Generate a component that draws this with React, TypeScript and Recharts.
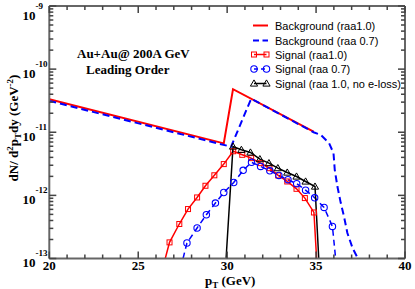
import React from 'react';
import { LineChart, Line, XAxis, YAxis } from 'recharts';

// ---------- data ----------
const bgRaa10X = [20, 29.81, 30.33, 34.86];
const bgRaa10Y = [3.34e-11, 6.67e-12, 4.81e-11, 1.02e-11];

const bgRaa07X = [20, 30.22, 31.35, 34.86, 35.26, 35.73, 35.98, 36.05, 36.2, 36.39, 36.57, 36.76, 37.05, 37.29, 37.45];
const bgRaa07Y = [3.14e-11, 5.9e-12, 3.4e-11, 1.0e-11, 9.1e-12, 6.73e-12, 4.67e-12, 2.54e-12, 1.38e-12, 7.55e-13, 4.63e-13, 2.53e-13, 1.47e-13, 1.08e-13, 0.9e-13];

const sigRaa10X = [26.52, 26.76, 27.31, 27.8, 28.31, 28.78, 29.28, 29.81, 30.34, 30.85, 31.35, 31.88, 32.38, 32.87, 33.38, 33.9, 34.37, 34.88, 35.03];
const sigRaa10Y = [1e-13, 1.8e-13, 3.52e-13, 6.07e-13, 9.27e-13, 1.42e-12, 2.08e-12, 3.13e-12, 5.0e-12, 4.39e-12, 3.89e-12, 3.24e-12, 2.7e-12, 2.07e-12, 1.66e-12, 1.27e-12, 9.06e-13, 5.36e-13, 1e-13];

const sigRaa07X = [27.52, 27.74, 28.31, 28.83, 29.34, 29.81, 30.37, 30.9, 31.37, 31.88, 32.4, 32.91, 33.42, 33.91, 34.41, 34.92, 35.45, 35.92, 36.1];
const sigRaa07Y = [1e-13, 1.76e-13, 3.04e-13, 4.93e-13, 7.55e-13, 1.11e-12, 1.6e-12, 2.49e-12, 3.34e-12, 2.88e-12, 2.45e-12, 2.07e-12, 1.77e-12, 1.53e-12, 1.21e-12, 9.16e-13, 6.44e-13, 3.22e-13, 1e-13];

const sigNoLossX = [29.94, 30.33, 30.8, 31.31, 31.84, 32.35, 32.85, 33.38, 33.9, 34.41, 34.94, 35.15];
const sigNoLossY = [1e-13, 5.94e-12, 5.27e-12, 4.78e-12, 3.75e-12, 3.24e-12, 2.7e-12, 2.3e-12, 1.99e-12, 1.66e-12, 1.38e-12, 1e-13];

const majorXTicks = [20, 25, 30, 35, 40];
const allXTicks = [20, 21, 22, 23, 24, 25, 26, 27, 28, 29, 30, 31, 32, 33, 34, 35, 36, 37, 38, 39, 40];
const majorYTicks = [1e-13, 1e-12, 1e-11, 1e-10, 1e-9];
const majorYExps = ['-13', '-12', '-11', '-10', '-9'];
const allYTicks = [
  1e-13, 2e-13, 3e-13, 4e-13, 5e-13, 6e-13, 7e-13, 8e-13, 9e-13,
  1e-12, 2e-12, 3e-12, 4e-12, 5e-12, 6e-12, 7e-12, 8e-12, 9e-12,
  1e-11, 2e-11, 3e-11, 4e-11, 5e-11, 6e-11, 7e-11, 8e-11, 9e-11,
  1e-10, 2e-10, 3e-10, 4e-10, 5e-10, 6e-10, 7e-10, 8e-10, 9e-10,
  1e-9,
];

const legendLabels = [
  'Background (raa1.0)',
  'Background (raa 0.7)',
  'Signal (raa1.0)',
  'Signal (raa 0.7)',
  'Signal (raa 1.0, no e-loss)',
];

// ---------- helpers ----------
const toPts = (xs: number[], ys: number[]) => xs.map((x, i) => ({ x, y: ys[i] }));

const bgRaa10 = toPts(bgRaa10X, bgRaa10Y);
const bgRaa07 = toPts(bgRaa07X, bgRaa07Y);
const sigRaa10 = toPts(sigRaa10X, sigRaa10Y);
const sigRaa07 = toPts(sigRaa07X, sigRaa07Y);
const sigNoLoss = toPts(sigNoLossX, sigNoLossY);

const SERIF = "'Liberation Serif', 'Times New Roman', serif";
const SANS = "'Liberation Sans Narrow', 'Arial Narrow', 'Liberation Sans', Arial, sans-serif";
const AXIS = '#666666';
const TICK = '#444444';
const RED = '#ff0000';
const BLUE = '#0000ff';

const DOMX: [number, number] = [20, 40];
const DOMY: [number, number] = [1e-13, 1e-9];
const MAJ = 7;
const MIN = 4;

const isMajorX = (v: number) => majorXTicks.indexOf(v) >= 0;
const majorYIndex = (v: number) =>
  majorYTicks.findIndex((m) => Math.abs(Math.log10(m) - Math.log10(v)) < 1e-6);

const square = (cx: number, cy: number, key?: any) => (
  <rect key={key} x={cx - 2.5} y={cy - 2.5} width={5} height={5} fill="none" stroke={RED} strokeWidth={1} />
);
const circle = (cx: number, cy: number, key?: any) => (
  <circle key={key} cx={cx} cy={cy} r={3.2} fill="none" stroke={BLUE} strokeWidth={1.1} />
);
const triangle = (cx: number, cy: number, key?: any) => (
  <path key={key} d={`M${cx},${cy - 3.6}L${cx - 3.6},${cy + 2.6}L${cx + 3.6},${cy + 2.6}Z`} fill="none" stroke="#000" strokeWidth={1} />
);

const makeDot = (shape: (cx: number, cy: number, key?: any) => any, len: number) => (props: any) => {
  const { cx, cy, index } = props;
  if (index === 0 || index === len - 1 || cx == null || cy == null) return <g key={`d${index}`} />;
  return shape(cx, cy, `d${index}`);
};

// Each axis draws its own inward tick marks (major + minor) and, for bottom/left, labels.
const BottomTick = (props: any) => {
  const { x, y, payload } = props;
  const major = isMajorX(payload.value);
  return (
    <g>
      <rect x={x - 0.75} y={y - (major ? MAJ : MIN)} width={1.5} height={major ? MAJ : MIN} fill={TICK} stroke="none" />
      {major ? (
        <text x={x} y={y + 11.5} textAnchor="middle" fontFamily={SERIF} fontWeight="bold" fontSize={13} fill="#000">
          {payload.value}
        </text>
      ) : null}
    </g>
  );
};
const TopTick = (props: any) => {
  const { x, y, payload } = props;
  const major = isMajorX(payload.value);
  return <rect x={x - 0.75} y={y} width={1.5} height={major ? MAJ : MIN} fill={TICK} stroke="none" />;
};
const LeftTick = (props: any) => {
  const { x, y, payload } = props;
  const i = majorYIndex(payload.value);
  const major = i >= 0;
  const exp = major ? majorYExps[i] : '';
  const shift = exp === '-9' ? 5 : 0;
  return (
    <g>
      <rect x={x} y={y - 0.75} width={major ? MAJ : MIN} height={1.5} fill={TICK} stroke="none" />
      {major ? (
        <text x={22.5} y={y + 8.5 + shift} textAnchor="start" fontFamily={SERIF} fontWeight="bold" fontSize={13} fill="#000">
          10
          <tspan fontSize={9} dy={-11}>{exp}</tspan>
        </text>
      ) : null}
    </g>
  );
};
const RightTick = (props: any) => {
  const { x, y, payload } = props;
  const major = majorYIndex(payload.value) >= 0;
  return <rect x={x - (major ? MAJ : MIN)} y={y - 0.75} width={major ? MAJ : MIN} height={1.5} fill={TICK} stroke="none" />;
};

const legendY = [25.5, 40.5, 54.5, 69, 83.5];
const axisLine = { stroke: AXIS, strokeWidth: 2 };

export default function App() {
  return (
    <div style={{ position: 'absolute', left: 0, top: 0, width: 415, height: 289, background: '#fff' }}>
      <LineChart width={415} height={289} margin={{ top: 0, right: 0, bottom: 0, left: 0 }}>
        <XAxis xAxisId="main" dataKey="x" type="number" domain={DOMX} allowDataOverflow ticks={allXTicks}
          height={30.5} tickSize={0} tickMargin={0} tickLine={false} tick={<BottomTick />} interval={0}
          axisLine={axisLine} />
        <XAxis xAxisId="top" orientation="top" dataKey="x" type="number" domain={DOMX} allowDataOverflow ticks={allXTicks}
          height={6} tickSize={0} tickMargin={0} tickLine={false} tick={<TopTick />} interval={0}
          axisLine={axisLine} />
        <YAxis yAxisId="main" type="number" scale="log" domain={DOMY} allowDataOverflow ticks={allYTicks}
          width={49.3} tickSize={0} tickMargin={0} tickLine={false} tick={<LeftTick />} interval={0}
          axisLine={axisLine} />
        <YAxis yAxisId="right" orientation="right" type="number" scale="log" domain={DOMY} allowDataOverflow ticks={allYTicks}
          width={10} tickSize={0} tickMargin={0} tickLine={false} tick={<RightTick />} interval={0}
          axisLine={axisLine} />

        <Line xAxisId="main" yAxisId="main" data={bgRaa10} dataKey="y" type="linear" stroke={RED} strokeWidth={2}
          dot={false} activeDot={false} isAnimationActive={false} />
        <Line xAxisId="main" yAxisId="main" data={bgRaa07} dataKey="y" type="linear" stroke={BLUE} strokeWidth={2}
          strokeDasharray="7 4" dot={false} activeDot={false} isAnimationActive={false} />
        <Line xAxisId="main" yAxisId="main" data={sigRaa10} dataKey="y" type="linear" stroke={RED} strokeWidth={1.5}
          dot={makeDot(square, sigRaa10.length)} activeDot={false} isAnimationActive={false} />
        <Line xAxisId="main" yAxisId="main" data={sigRaa07} dataKey="y" type="linear" stroke={BLUE} strokeWidth={1.5}
          strokeDasharray="6 4" dot={makeDot(circle, sigRaa07.length)} activeDot={false} isAnimationActive={false} />
        <Line xAxisId="main" yAxisId="main" data={sigNoLoss} dataKey="y" type="linear" stroke="#000" strokeWidth={1.5}
          dot={makeDot(triangle, sigNoLoss.length)} activeDot={false} isAnimationActive={false} />

        <text x={77} y={57.5} fontFamily={SERIF} fontWeight="bold" fontSize={13} fill="#000">Au+Au@ 200A GeV</text>
        <text x={86} y={74} fontFamily={SERIF} fontWeight="bold" fontSize={13} fill="#000">Leading Order</text>

        <text x={205} y={285} fontFamily={SERIF} fontWeight="bold" fontSize={13} fill="#000">
          p<tspan fontSize={9} dy={3}>T</tspan><tspan dy={-3}> (GeV)</tspan>
        </text>

        <text transform="rotate(-90)" x={-128} y={18} textAnchor="middle" fontFamily={SERIF} fontWeight="bold" fontSize={13} fill="#000">
          dN/ d<tspan fontSize={9} dy={-5}>2</tspan><tspan dy={5}>p</tspan><tspan fontSize={9} dy={3}>T</tspan><tspan dy={-3}>dy (GeV</tspan><tspan fontSize={9} dy={-5}>-2</tspan><tspan dy={5}>)</tspan>
        </text>

        <g>
          <line x1={253} x2={268} y1={legendY[0]} y2={legendY[0]} stroke={RED} strokeWidth={2} />
          <line x1={253} x2={268} y1={legendY[1]} y2={legendY[1]} stroke={BLUE} strokeWidth={2} strokeDasharray="6 3.5" />
          <line x1={254} x2={266.5} y1={legendY[2]} y2={legendY[2]} stroke={RED} strokeWidth={1.5} />
          {square(254, legendY[2], 'ls1')}
          {square(266.5, legendY[2], 'ls2')}
          <line x1={254} x2={266.5} y1={legendY[3]} y2={legendY[3]} stroke={BLUE} strokeWidth={1.5} strokeDasharray="4 3" />
          {circle(254, legendY[3], 'lc1')}
          {circle(266.5, legendY[3], 'lc2')}
          <line x1={254} x2={266.5} y1={legendY[4]} y2={legendY[4]} stroke="#000" strokeWidth={1.5} />
          {triangle(254, legendY[4], 'lt1')}
          {triangle(266.5, legendY[4], 'lt2')}
          {legendLabels.map((t, i) => (
            <text key={t} x={275} y={legendY[i] + 4} fontFamily={SANS} fontSize={11} fill="#000">{t}</text>
          ))}
        </g>
      </LineChart>
    </div>
  );
}
